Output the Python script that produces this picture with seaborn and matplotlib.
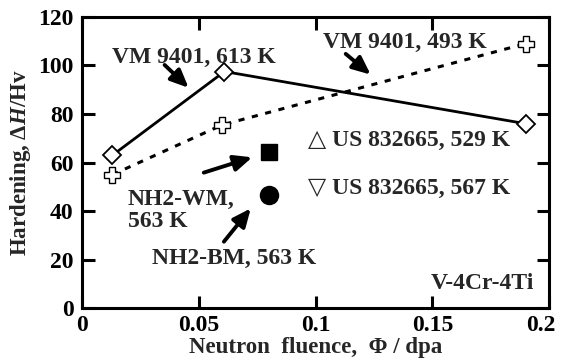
import matplotlib
matplotlib.use("Agg")
import matplotlib.pyplot as plt
from matplotlib.transforms import ScaledTranslation
import seaborn as sns
import pandas as pd

# ---- data ----
vm613_x = [0.013, 0.061, 0.19]
vm613_y = [63, 97.5, 76]
vm493_x = [0.013, 0.060, 0.19]
vm493_y = [55, 75.5, 109]
wm_x = [0.08]
wm_y = [64.5]
bm_x = [0.08]
bm_y = [46.5]
xticks = [0, 0.05, 0.1, 0.15, 0.2]
xticklabels = ["0", "0.05", "0.1", "0.15", "0.2"]
yticks = [0, 20, 40, 60, 80, 100, 120]

sns.set_theme(style="ticks")
plt.rcParams["font.family"] = ["Liberation Serif", "DejaVu Serif"]
plt.rcParams["font.weight"] = "bold"
plt.rcParams["mathtext.fontset"] = "custom"
plt.rcParams["mathtext.rm"] = "Liberation Serif:bold"
plt.rcParams["mathtext.it"] = "Liberation Serif:italic:bold"

fig = plt.figure(figsize=(5.62, 3.6), dpi=100)
ax = fig.add_axes([0.146, 0.144, 0.831, 0.809])

sns.lineplot(x=vm613_x, y=vm613_y, ax=ax, color="black", lw=2, marker="D",
             markersize=9.5, markerfacecolor="white", markeredgecolor="black",
             markeredgewidth=1.3, zorder=3)
sns.lineplot(x=vm493_x, y=vm493_y, ax=ax, color="black", lw=2.2,
             linestyle=(0, (2, 2.5)), marker="P", markersize=11,
             markerfacecolor="white", markeredgecolor="black",
             markeredgewidth=1.0, zorder=3)
ax.plot(wm_x, wm_y, marker="s", markersize=12, color="black", ls="none")
ax.plot(bm_x, bm_y, marker="o", markersize=13, color="black", ls="none")

ax.set_xlim(0, 0.2)
ax.set_ylim(0, 120)
ax.set_xticks(xticks)
ax.set_xticklabels(xticklabels)
ax.set_yticks(yticks)
for s in ax.spines.values():
    s.set_linewidth(2.2)
    s.set_color("black")
ax.tick_params(direction="in", length=9, width=2.2, top=True, right=True,
               labelsize=17, colors="black")
ax.tick_params(axis="y", pad=6)
ax.tick_params(axis="x", pad=5)
for lab in ax.get_xticklabels() + ax.get_yticklabels():
    lab.set_fontweight("bold")
last = ax.get_xticklabels()[-1]
last.set_transform(last.get_transform() + ScaledTranslation(-0.08, 0, fig.dpi_scale_trans))

ax.set_xlabel("Neutron  fluence,  Φ / dpa", fontsize=16.5, fontweight="bold", labelpad=1)
ax.set_ylabel(r"Hardening, $\mathit{\Delta H}$/Hv", fontsize=16.5, fontweight="bold", labelpad=4)

fs = 17
arrow = dict(arrowstyle="-|>,head_width=0.4,head_length=0.9", color="black", lw=2.8)
ax.text(0.0128, 103.5, "VM 9401, 613 K", fontsize=fs, fontweight="bold", va="center")
ax.annotate("", xy=(0.0465, 90), xytext=(0.0345, 101), arrowprops=arrow)
ax.text(0.1032, 109.3, "VM 9401, 493 K", fontsize=fs, fontweight="bold", va="center")
ax.annotate("", xy=(0.1245, 95.5), xytext=(0.112, 105.5), arrowprops=arrow)
ax.text(0.0968, 69.3, "△ US 832665, 529 K", fontsize=fs, fontweight="bold", va="center")
ax.text(0.0968, 49.5, "▽ US 832665, 567 K", fontsize=fs, fontweight="bold", va="center")
ax.text(0.0197, 40.4, "NH2-WM,\n563 K", fontsize=fs, fontweight="bold", va="center",
        linespacing=1.05)
ax.annotate("", xy=(0.074, 62.5), xytext=(0.051, 55.5), arrowprops=arrow)
ax.text(0.030, 20.6, "NH2-BM, 563 K", fontsize=fs, fontweight="bold", va="center")
ax.annotate("", xy=(0.073, 42), xytext=(0.060, 26.5), arrowprops=arrow)
ax.text(0.1936, 10.3, "V-4Cr-4Ti", fontsize=fs, fontweight="bold", va="center", ha="right")

fig.savefig("out.png", dpi=100)
